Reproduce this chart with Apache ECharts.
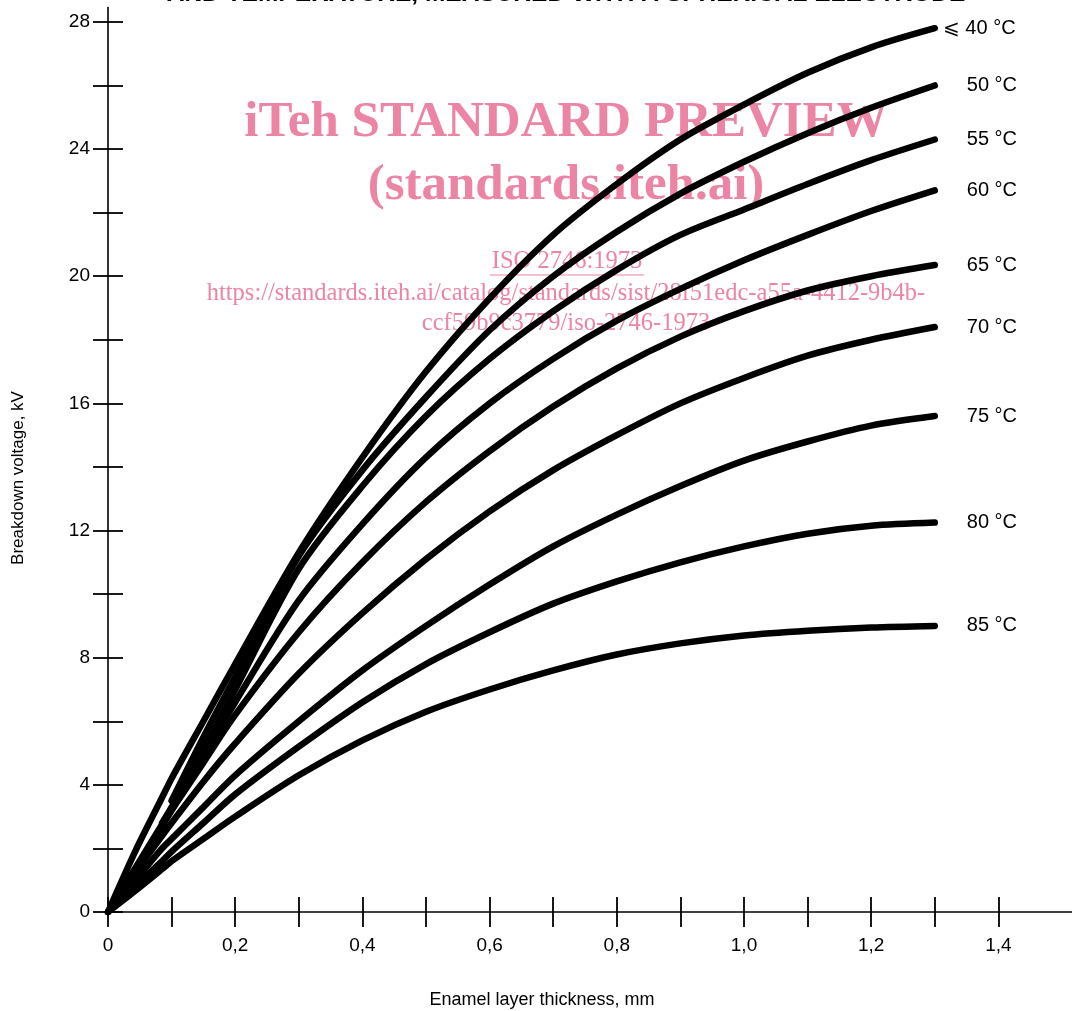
<!DOCTYPE html>
<html>
<head>
<meta charset="utf-8">
<script src="https://cdn.jsdelivr.net/npm/echarts@6/dist/echarts.min.js"></script>
<style>
html,body{margin:0;padding:0;background:#fff;}
#chart{width:1072px;height:1011px;}
</style>
</head>
<body>
<div id="chart"></div>
<script>
// ---- data ----
const thickness = [0, 0.045, 0.085, 0.1, 0.15, 0.2, 0.3, 0.4, 0.5, 0.6, 0.7, 0.8, 0.9, 1.0, 1.1, 1.2, 1.3];
const v40 = [0, 2.0, 3.6, 4.2, 6.0, 7.8, 11.3, 14.3, 17.0, 19.3, 21.3, 22.9, 24.3, 25.4, 26.4, 27.2, 27.8];
const v50 = [null, null, null, 3.5, 5.5, 7.4, 11.2, 13.9, 16.2, 18.3, 20.0, 21.4, 22.6, 23.6, 24.5, 25.3, 26.0];
const v55 = [null, null, 2.8, 3.3, 5.1, 7.0, 10.8, 13.4, 15.6, 17.4, 18.9, 20.2, 21.3, 22.1, 22.9, 23.65, 24.3];
const v60 = [null, 1.4, 2.7, 3.2, 4.9, 6.6, 9.8, 12.2, 14.3, 16.0, 17.4, 18.6, 19.6, 20.5, 21.3, 22.05, 22.7];
const v65 = [0, 1.45, 2.75, 3.2, 4.7, 6.2, 8.8, 11.0, 12.9, 14.5, 15.9, 17.1, 18.1, 18.9, 19.55, 20.0, 20.35];
const v70 = [0, 1.3, 2.4, 2.8, 4.1, 5.3, 7.5, 9.4, 11.1, 12.6, 13.9, 15.0, 16.0, 16.8, 17.5, 18.0, 18.4];
const v75 = [0, 1.05, 2.0, 2.3, 3.3, 4.3, 6.0, 7.6, 9.0, 10.3, 11.5, 12.5, 13.4, 14.2, 14.8, 15.3, 15.6];
const v80 = [0, 0.85, 1.6, 1.9, 2.8, 3.7, 5.2, 6.6, 7.8, 8.8, 9.7, 10.4, 11.0, 11.5, 11.9, 12.15, 12.25];
const v85 = [0, 0.7, 1.35, 1.6, 2.3, 3.0, 4.3, 5.4, 6.3, 7.0, 7.6, 8.1, 8.45, 8.7, 8.85, 8.95, 9.0];
const curveNames = ['⩽ 40 °C', '50 °C', '55 °C', '60 °C', '65 °C', '70 °C', '75 °C', '80 °C', '85 °C'];
const curveValues = [v40, v50, v55, v60, v65, v70, v75, v80, v85];
const xTicks = [0, 0.1, 0.2, 0.3, 0.4, 0.5, 0.6, 0.7, 0.8, 0.9, 1.0, 1.1, 1.2, 1.3, 1.4];
const xLabels = [0, 0.2, 0.4, 0.6, 0.8, 1.0, 1.2, 1.4];
const yTicks = [0, 2, 4, 6, 8, 10, 12, 14, 16, 18, 20, 22, 24, 26, 28];
const yLabels = [0, 4, 8, 12, 16, 20, 24, 28];
const titleText = 'AND TEMPERATURE, MEASURED WITH A SPHERICAL ELECTRODE';
const xName = 'Enamel layer thickness, mm';
const yName = 'Breakdown voltage, kV';
const wmLines = ['iTeh STANDARD PREVIEW', '(standards.iteh.ai)'];
const wmSmall = ['ISO 2746:1973', 'https://standards.iteh.ai/catalog/standards/sist/28f51edc-a55a-4412-9b4b-', 'ccf59b9c3779/iso-2746-1973'];

// ---- chart ----
const FONT = "'Liberation Sans', Arial, sans-serif";
const SERIF = "'Liberation Serif', 'Times New Roman', serif";
const PINK = '#ec84a3';
const chart = echarts.init(document.getElementById('chart'), null, {renderer: 'canvas'});

const X_MAX = 1.515, Y_MAX = 28.45;
const PX_X = 636, PX_Y = 31.79;
const gridLeft = 108, yZero = 912;

function fmtX(v) { return v === 0 ? '0' : v.toFixed(1).replace('.', ','); }

const series = curveValues.map((vals, k) => {
  const data = [];
  thickness.forEach((t, i) => { if (vals[i] !== null) data.push([t, vals[i]]); });
  return {
    type: 'line',
    name: curveNames[k],
    data: data,
    smooth: 0.3,
    symbol: 'none',
    z: 5,
    lineStyle: {color: '#000', width: 6.5, cap: 'round', join: 'round'},
    endLabel: {
      show: true,
      formatter: curveNames[k],
      distance: k === 0 ? 8 : 32,
      color: '#000',
      fontFamily: FONT,
      fontSize: 20
    }
  };
});

function xAxisDef(inside, labels) {
  return {
    type: 'value', min: 0, max: X_MAX, position: 'bottom', gridIndex: 0,
    axisLine: {show: !inside, onZero: false, lineStyle: {color: '#000', width: 1.6}},
    axisTick: {show: true, inside: inside, length: 15, customValues: xTicks, lineStyle: {color: '#000', width: 1.8}},
    axisLabel: labels ? {show: true, customValues: xLabels, formatter: fmtX, margin: 24, color: '#000', fontFamily: FONT, fontSize: 19} : {show: false},
    splitLine: {show: false}
  };
}
function yAxisDef(inside, labels) {
  return {
    type: 'value', min: 0, max: Y_MAX, position: 'left', gridIndex: 0,
    axisLine: {show: !inside, onZero: false, lineStyle: {color: '#000', width: 1.6}},
    axisTick: {show: true, inside: inside, length: 15, customValues: yTicks, lineStyle: {color: '#000', width: 1.8}},
    axisLabel: labels ? {show: true, customValues: yLabels, margin: 18, color: '#000', fontFamily: FONT, fontSize: 19} : {show: false},
    splitLine: {show: false}
  };
}

const graphic = [
  {type: 'text', x: 566, y: 7, z: 10,
   style: {text: titleText, font: 'bold 24.5px ' + FONT, fill: '#000', align: 'center', verticalAlign: 'bottom'}},
  {type: 'text', x: 542, y: 1000, z: 10,
   style: {text: xName, font: '18px ' + FONT, fill: '#000', align: 'center', verticalAlign: 'middle'}},
  {type: 'text', x: 18, y: 478, rotation: Math.PI / 2, z: 10,
   style: {text: yName, font: '17px ' + FONT, fill: '#000', align: 'center', verticalAlign: 'middle'}},
  {type: 'text', x: 566, y: 123, z: 1,
   style: {text: wmLines[0], font: 'bold 51px ' + SERIF, fill: PINK, align: 'center', verticalAlign: 'middle'}},
  {type: 'text', x: 566, y: 186, z: 1,
   style: {text: wmLines[1], font: 'bold 51px ' + SERIF, fill: PINK, align: 'center', verticalAlign: 'middle'}},
  {type: 'text', x: 567, y: 262, z: 1,
   style: {text: wmSmall[0], font: '24.5px ' + SERIF, fill: PINK, align: 'center', verticalAlign: 'middle'}},
  {type: 'line', z: 1, shape: {x1: 490, y1: 275, x2: 644, y2: 275}, style: {stroke: PINK, lineWidth: 1.2}},
  {type: 'text', x: 566, y: 294, z: 1,
   style: {text: wmSmall[1], font: '24.5px ' + SERIF, fill: PINK, align: 'center', verticalAlign: 'middle'}},
  {type: 'text', x: 566, y: 324, z: 1,
   style: {text: wmSmall[2], font: '24.5px ' + SERIF, fill: PINK, align: 'center', verticalAlign: 'middle'}}
];

chart.setOption({
  animation: false,
  backgroundColor: '#fff',
  grid: {left: gridLeft, top: yZero - Y_MAX * PX_Y, width: X_MAX * PX_X, height: Y_MAX * PX_Y, containLabel: false},
  xAxis: [xAxisDef(false, true), xAxisDef(true, false)],
  yAxis: [yAxisDef(false, true), yAxisDef(true, false)],
  series: series,
  graphic: graphic
});
</script>
</body>
</html>
